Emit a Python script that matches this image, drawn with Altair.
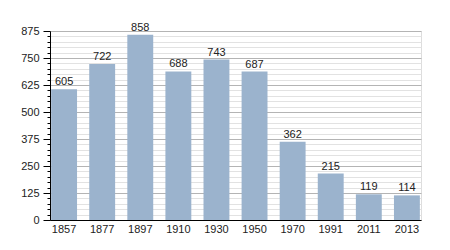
import altair as alt
import pandas as pd

years = ["1857", "1877", "1897", "1910", "1930", "1950", "1970", "1991", "2011", "2013"]
population = [605, 722, 858, 688, 743, 687, 362, 215, 119, 114]

df = pd.DataFrame({"year": years, "pop": population})

y_ticks = list(range(0, 876, 25))

font = "Liberation Sans"

base = alt.Chart(df).encode(
    x=alt.X(
        "year:N",
        sort=None,
        title=None,
        scale=alt.Scale(paddingInner=0.32, paddingOuter=0.03),
        axis=alt.Axis(
            labelAngle=0,
            ticks=False,
            domainColor="#000000",
            labelColor="#222222",
            labelFont=font,
            labelFontSize=11,
            labelPadding=3,
            grid=False,
        ),
    ),
    y=alt.Y(
        "pop:Q",
        title=None,
        scale=alt.Scale(domain=[0, 875], nice=False),
        axis=alt.Axis(
            values=y_ticks,
            labelExpr="datum.value % 125 === 0 ? datum.label : ''",
            labelColor="#222222",
            labelFont=font,
            labelFontSize=11,
            labelPadding=4,
            domainColor="#000000",
            tickColor="#000000",
            tickSize={"condition": {"test": "datum.value % 125 === 0", "value": 7}, "value": 3},
            grid=True,
            gridColor={"condition": {"test": "datum.value % 125 === 0", "value": "#b4b4b4"}, "value": "#e2e2e2"},
            gridWidth=1,
        ),
    ),
)

bars = base.mark_bar(color="#9bb3cd")
labels = base.mark_text(dy=-7, fontSize=11, font=font, color="#222222").encode(text="pop:Q")

chart = (
    (bars + labels)
    .properties(
        width=371,
        height=189,
        autosize="none",
        padding={"left": 50, "top": 31, "right": 29, "bottom": 30},
    )
    .configure_view(stroke=None)
    .configure(background="white")
)

chart.save("out.html", embed_options={"renderer": "svg", "actions": False})
